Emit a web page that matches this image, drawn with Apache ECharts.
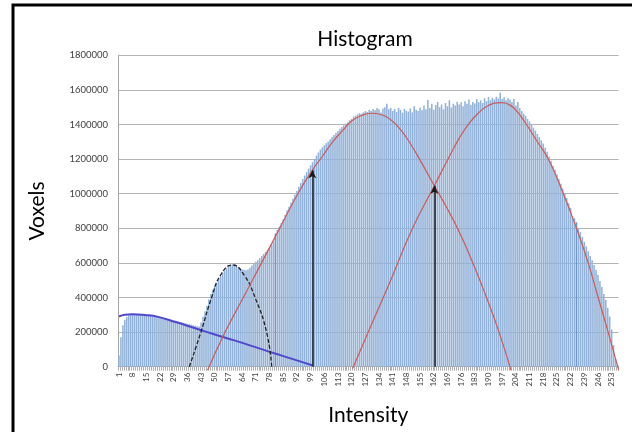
<!DOCTYPE html>
<html>
<head>
<meta charset="utf-8">
<script src="https://cdn.jsdelivr.net/npm/echarts@6/dist/echarts.min.js"></script>
<style>
  html, body { margin: 0; padding: 0; background: #fff; }
  #histChart { width: 632px; height: 432px; }
</style>
</head>
<body>
<div id="histChart"></div>
<script>
// voxel counts per intensity 1..256
const counts = [
  65000, 170000, 240000, 272000, 287000, 296000, 299000, 301000, 300000, 300000,
  299000, 299000, 298000, 297000, 296000, 295000, 294000, 292000, 290000, 289000,
  287000, 285000, 283000, 281000, 279000, 276000, 273000, 271000, 268000, 265000,
  262000, 259000, 257000, 254000, 251000, 248000, 246000, 243000, 240000, 237000,
  234000, 232000, 255000, 289000, 320000, 352000, 390000, 420000, 445000, 465000,
  485000, 505000, 522000, 540000, 555000, 568000, 578000, 586000, 592000, 590000,
  585000, 575000, 568000, 562000, 560000, 558000, 562000, 572000, 585000, 598000,
  606000, 615000, 628000, 640000, 652000, 663000, 675000, 688000, 705000, 722000,
  770000, 790000, 810000, 830000, 852000, 878000, 905000, 925000, 948000, 972000,
  995000, 1015000, 1040000, 1062000, 1085000, 1105000, 1125000, 1145000, 1165000, 1182000,
  1200000, 1220000, 1238000, 1255000, 1268000, 1280000, 1292000, 1302000, 1315000, 1328000,
  1340000, 1352000, 1362000, 1375000, 1385000, 1395000, 1405000, 1412000, 1425000, 1432000,
  1445000, 1450000, 1458000, 1465000, 1462000, 1470000, 1478000, 1472000, 1485000, 1478000,
  1490000, 1482000, 1495000, 1488000, 1470000, 1492000, 1500000, 1520000, 1488000, 1495000,
  1478000, 1490000, 1472000, 1495000, 1485000, 1468000, 1490000, 1480000, 1475000, 1492000,
  1470000, 1505000, 1485000, 1478000, 1498000, 1482000, 1510000, 1488000, 1541000, 1495000,
  1520000, 1485000, 1512000, 1530000, 1500000, 1515000, 1488000, 1525000, 1505000, 1540000,
  1498000, 1520000, 1510000, 1532000, 1515000, 1528000, 1505000, 1535000, 1520000, 1545000,
  1512000, 1530000, 1522000, 1548000, 1528000, 1540000, 1525000, 1552000, 1535000, 1558000,
  1540000, 1555000, 1545000, 1560000, 1550000, 1584000, 1548000, 1558000, 1540000, 1552000,
  1545000, 1530000, 1548000, 1510000, 1530000, 1495000, 1478000, 1462000, 1450000, 1432000,
  1418000, 1400000, 1382000, 1365000, 1345000, 1328000, 1308000, 1290000, 1265000, 1242000,
  1215000, 1190000, 1162000, 1138000, 1112000, 1085000, 1058000, 1030000, 1002000, 975000,
  945000, 918000, 870000, 858000, 835000, 800000, 778000, 750000, 722000, 695000,
  668000, 640000, 615000, 588000, 560000, 530000, 495000, 460000, 420000, 385000,
  340000, 290000, 215000, 125000, 45000, 12000
];
const intensities = counts.map((v, i) => String(i + 1));
// bars drawn a shade darker in the picture
const darkBars = [81, 235];

// fitted curves as [intensity, voxels]
const bgCurve = [
  [1, 290000], [4, 300000], [8, 303000], [14, 299000], [21, 288000], [30, 258000],
  [40, 222000], [50, 186000], [60, 152000], [70, 116000], [80, 79000], [90, 44000],
  [99.8, 8000]
];
const peak1 = [
  [37, 0], [42.9, 200000], [48.4, 400000], [53, 530000], [59, 588000], [65, 530000],
  [70.6, 400000], [76.5, 200000], [79.1, 0]
];
const peak2 = [
  [46.3, -20000], [55.3, 200000], [64.6, 400000], [73.9, 600000], [83.2, 800000],
  [92.5, 1000000], [99.9, 1136000], [105, 1215000], [110, 1295000], [115, 1360000],
  [120, 1420000], [125, 1452000], [130, 1465000], [135, 1458000], [140, 1428000],
  [145, 1370000], [150, 1290000], [155, 1194000], [162.3, 1046000], [168.6, 920000],
  [175, 780000], [182, 600000], [189, 400000], [195.4, 200000], [201.5, -20000]
];
const peak3 = [
  [120.5, -10000], [130, 240000], [140, 500000], [150.7, 789000], [162.3, 1046000],
  [170, 1215000], [175, 1320000], [180, 1405000], [185, 1468000], [190, 1510000],
  [196, 1526000], [201, 1512000], [205, 1470000], [210, 1390000], [215, 1300000],
  [220.6, 1200000], [228.3, 1000000], [235, 800000], [241, 600000], [246.1, 400000],
  [251.2, 200000], [256.6, -20000]
];
// arrow positions [intensity, top]
const arrows = [[99.9, 1136000], [162.3, 1046000]];

const yTicks = { min: 0, max: 1800000, step: 200000 };

let chart = echarts.init(document.getElementById('histChart'));
let curveBase = {
  type: 'line',
  xAxisIndex: 1,
  smooth: 0.5,
  showSymbol: false,
  symbol: 'none',
  clip: false,
  silent: true
};

chart.setOption({
  animation: false,
  backgroundColor: '#fff',
  textStyle: { fontFamily: 'Lato, "Liberation Sans", sans-serif' },
  title: {
    text: 'Histogram',
    left: 360,
    top: 24,
    textAlign: 'center',
    textStyle: { fontSize: 21, fontWeight: 'normal', color: '#000', fontFamily: 'Lato' }
  },
  graphic: [{
    type: 'rect',
    shape: { x: 13, y: 5, width: 640, height: 460 },
    style: { fill: 'none', stroke: '#000', lineWidth: 3 },
    silent: true
  }],
  grid: { left: 118, right: 13.5, top: 55.3, bottom: 65.3 },
  xAxis: [{
    type: 'category',
    data: intensities,
    name: 'Intensity',
    nameLocation: 'middle',
    nameGap: 38,
    nameTextStyle: { fontSize: 21, color: '#000', fontFamily: 'Lato' },
    axisLine: { lineStyle: { color: '#a6a6a6' } },
    axisTick: { show: true, interval: 0, length: 4, lineStyle: { color: '#b0b0b0' } },
    axisLabel: { interval: 6, rotate: 90, fontSize: 8, color: '#404040', margin: 6 },
    splitLine: { show: false }
  }, {
    type: 'value',
    min: 0.5,
    max: 256.5,
    show: false
  }],
  yAxis: {
    type: 'value',
    min: yTicks.min,
    max: yTicks.max,
    interval: yTicks.step,
    name: 'Voxels',
    nameLocation: 'middle',
    nameGap: 70,
    nameRotate: 90,
    nameTextStyle: { fontSize: 21, color: '#000', fontFamily: 'Lato' },
    axisLine: { show: true, lineStyle: { color: '#a6a6a6' } },
    axisTick: { show: false },
    axisLabel: { fontSize: 9.5, color: '#404040', margin: 10, formatter: v => String(v) },
    splitLine: { lineStyle: { color: '#b4b4b4', width: 1.2 } }
  },
  series: [
    {
      type: 'bar',
      xAxisIndex: 0,
      barCategoryGap: '20%',
      itemStyle: { color: '#93b2d9' },
      data: counts.map((v, i) => darkBars.includes(i + 1)
        ? { value: v, itemStyle: { color: '#6f96cb' } } : v)
    },
    Object.assign({}, curveBase, {
      data: bgCurve,
      lineStyle: { color: '#4f47cc', width: 2 }
    }),
    Object.assign({}, curveBase, {
      data: peak1,
      lineStyle: { color: '#222', width: 1.3, type: [4, 2] }
    }),
    Object.assign({}, curveBase, {
      data: peak2,
      lineStyle: { color: '#c95b5b', width: 1.2 }
    }),
    Object.assign({}, curveBase, {
      data: peak3,
      lineStyle: { color: '#c95b5b', width: 1.2 }
    }),
    {
      type: 'line',
      xAxisIndex: 1,
      data: [],
      markLine: {
        silent: true,
        symbol: ['none', 'arrow'],
        symbolSize: [6, 8],
        label: { show: false },
        lineStyle: { color: '#1a1a1a', width: 1.5, type: 'solid' },
        data: arrows.map(a => [{ coord: [a[0], 0] }, { coord: [a[0], a[1]] }])
      }
    }
  ]
});
window.addEventListener('resize', function () {
  chart.resize();
});
</script>
</body>
</html>
